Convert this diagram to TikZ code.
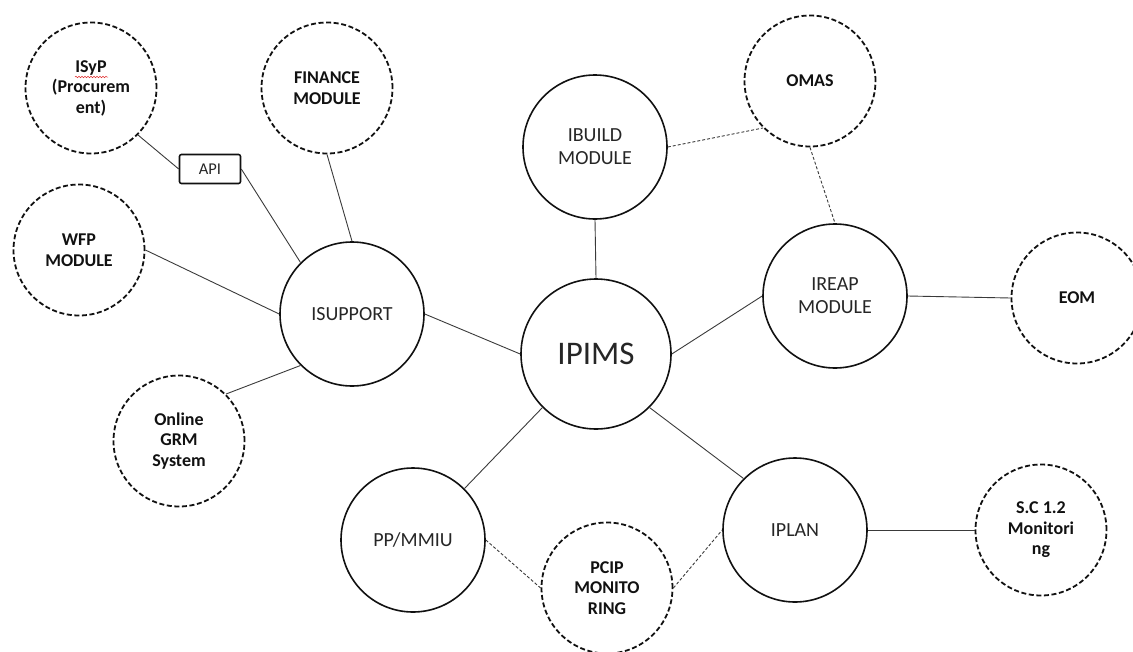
\documentclass[tikz,border=0pt]{standalone}
\usepackage{fontspec}
\setmainfont{Carlito}
\usetikzlibrary{decorations.pathmorphing}
\definecolor{ink}{HTML}{111111}
\definecolor{wire}{HTML}{3A3A3A}
\definecolor{labelgray}{HTML}{262626}
\definecolor{spellred}{HTML}{E03030}
\begin{document}
\begin{tikzpicture}[x=1pt,y=-1pt,
  hub/.style={circle, draw=ink, line width=1.6pt, minimum size=144pt, inner sep=0pt,
    align=center, text=labelgray, font=\fontsize{20}{23}\selectfont},
  ext/.style={circle, draw=ink, line width=1.8pt, dash pattern=on 5pt off 2.6pt,
    minimum size=131pt, inner sep=0pt, align=center, text=ink,
    font=\fontsize{18}{20.5}\selectfont\bfseries},
  apibox/.style={draw=ink, line width=1.6pt, rounded corners=2pt, minimum width=61pt,
    minimum height=29pt, inner sep=0pt, text=labelgray, font=\fontsize{16.5}{19}\selectfont},
  link/.style={draw=wire, line width=0.9pt},
  dlink/.style={draw=wire, line width=0.9pt, dash pattern=on 3pt off 2pt}]

\path[use as bounding box] (0,0) rectangle (1133,651);
\clip (0,0) rectangle (1133,651);

% core modules
\node[hub, minimum size=150pt, font=\fontsize{33}{38}\selectfont] (ipims) at (596,354) {IPIMS};
\node[hub] (isupport) at (352,314) {ISUPPORT};
\node[hub] (ibuild) at (595,147) {IBUILD\\MODULE};
\node[hub] (ireap) at (835,296) {IREAP\\MODULE};
\node[hub] (pp) at (413,540) {PP/MMIU};
\node[hub] (iplan) at (795,530) {IPLAN};

% external systems
\node[ext] (isyp) at (91,88) {ISyP\\(Procurem\\ent)};
\node[ext] (finance) at (327,88) {FINANCE\\MODULE};
\node[ext] (wfp) at (79,250) {WFP\\MODULE};
\node[ext] (grm) at (179,441) {Online\\GRM\\System};
\node[ext] (omas) at (810,81) {OMAS};
\node[ext] (eom) at (1077,298) {EOM};
\node[ext] (pcip) at (607,588) {PCIP\\MONITO\\RING};
\node[ext] (sc) at (1041,530) {S.C 1.2\\Monitori\\ng};

\node[apibox] (api) at (210,169) {API};

% spell-check squiggle under ISyP
\draw[spellred, line width=0.5pt, decorate,
  decoration={snake, amplitude=0.8pt, segment length=3pt}] (75,77) -- (108,77);

% solid links
\draw[link] (isyp.south east) -- (api.west);
\draw[link] (api.east) -- (isupport.north west);
\draw[link] (finance.south) -- (isupport.north);
\draw[link] (wfp.east) -- (isupport.west);
\draw[link] (grm.north east) -- (isupport.south west);
\draw[link] (isupport.east) -- (ipims.west);
\draw[link] (ibuild.south) -- (ipims.north);
\draw[link] (ipims.east) -- (ireap.west);
\draw[link] (ireap.east) -- (eom.west);
\draw[link] (ipims.south west) -- (pp.north east);
\draw[link] (ipims.south east) -- (iplan.north west);
\draw[link] (iplan.east) -- (sc.west);

% dashed links
\draw[dlink] (ibuild.east) -- (omas.south west);
\draw[dlink] (omas.south) -- (ireap.north);
\draw[dlink] (pp.east) -- (pcip.west);
\draw[dlink] (pcip.east) -- (iplan.west);
\end{tikzpicture}
\end{document}
